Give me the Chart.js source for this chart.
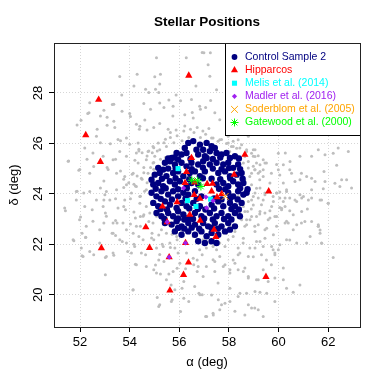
<!DOCTYPE html>
<html>
<head>
<meta charset="utf-8">
<script src="https://cdn.jsdelivr.net/npm/chart.js@4.4.1/dist/chart.umd.min.js"></script>
<style>
  body { margin: 0; background: #fff; }
  canvas { display: block; }
</style>
</head>
<body>
<canvas id="myChart" width="382" height="382"></canvas>
<script>
// tick values (deg)
const xTickValues = [52, 54, 56, 58, 60, 62];
const yTickValues = [20, 22, 24, 26, 28];

// background field stars [alpha, delta]
const fieldStars = [
  [55.08,29.40],[56.28,29.40],[56.92,29.60],[53.60,28.65],[54.30,28.74],[55.01,28.64],[55.24,28.74],
  [54.17,28.28],[54.64,28.15],[55.04,28.15],[55.21,28.35],[55.17,28.02],[53.68,27.92],[54.77,28.02],
  [55.87,27.92],[56.67,28.28],[52.39,27.61],[52.96,27.31],[53.36,27.55],[52.31,27.18],[52.82,27.09],
  [54.00,27.18],[54.57,27.58],[54.84,27.35],[55.38,27.42],[55.58,27.72],[55.74,27.09],[56.05,27.69],
  [56.52,27.22],[56.85,27.35],[57.06,27.42],[52.04,26.92],[51.88,26.73],[52.69,26.56],[53.09,26.72],
  [53.09,27.04],[53.40,26.63],[54.27,26.76],[54.61,26.93],[54.39,26.56],[54.70,26.53],[54.97,26.63],
  [55.21,26.79],[55.55,26.56],[55.87,26.53],[56.22,26.69],[56.45,26.56],[56.72,26.63],[56.95,26.49],
  [57.19,26.59],[52.82,26.03],[53.22,25.99],[53.63,26.10],[54.00,25.97],[54.37,25.70],[54.77,25.70],
  [54.97,25.83],[55.38,26.03],[55.64,26.23],[51.54,25.30],[51.95,24.93],[52.28,25.37],[52.55,25.08],
  [53.09,25.04],[53.43,25.37],[53.63,24.91],[53.76,24.58],[54.21,25.33],[54.57,25.04],[54.97,24.97],
  [54.84,24.58],[54.17,24.38],[52.96,24.51],[56.99,29.59],[57.25,29.59],[57.16,29.12],[57.23,28.66],
  [57.50,28.13],[57.26,27.70],[57.43,27.21],[57.63,26.94],[57.36,26.21],[57.56,26.08],[56.49,27.74],
  [56.82,27.47],[56.56,27.01],[56.22,27.14],[55.75,27.47],[55.21,27.60],[53.30,27.54],[53.69,27.27],
  [52.36,27.21],[53.36,26.88],[54.03,27.07],[54.41,26.68],[55.15,26.02],[55.48,25.88],[55.21,25.75],
  [54.94,25.88],[54.34,26.02],[53.87,26.21],[52.66,26.28],[53.53,26.15],[52.19,25.82],[52.52,25.62],
  [52.93,25.49],[53.33,25.35],[53.60,25.68],[53.87,25.49],[54.27,25.62],[54.74,25.68],[55.01,25.49],
  [54.67,25.35],[54.94,25.22],[54.34,25.22],[51.99,24.96],[52.39,24.82],[53.13,24.96],[53.47,24.82],
  [53.80,24.69],[54.14,24.82],[54.47,24.62],[54.74,24.82],[54.94,24.49],
  [54.37,25.77],[54.50,25.63],[54.70,25.50],[54.91,25.63],[55.11,25.70],[55.24,25.37],[55.44,25.44],
  [54.97,25.24],[54.84,25.04],[54.57,24.84],[54.30,24.71],[54.10,24.78],[54.50,24.58],[54.70,24.44],
  [54.23,24.31],[53.96,24.44],[54.97,24.71],[55.64,26.43],[55.91,26.30],[56.18,26.49],[56.38,26.23],
  [56.59,26.43],[56.85,26.23],[57.06,26.36],[55.44,26.16],[55.78,26.03],[56.11,26.10],
  [57.97,26.28],[58.17,26.08],[58.31,25.81],[58.51,25.95],[58.71,25.75],[58.91,25.61],[58.44,25.42],
  [58.78,25.28],[58.98,25.09],[59.25,24.89],[59.38,24.69],[58.64,24.56],[58.91,24.36],[59.25,24.23],
  [58.78,24.09],[58.58,23.89],[58.98,23.56],[58.64,23.30],[58.85,22.97],
  [57.30,26.21],[57.63,26.14],[57.90,26.00],[58.10,25.88],[58.37,26.14],[58.78,26.28],[59.05,25.48],
  [59.38,25.35],[59.25,25.15],[58.58,25.22],[58.78,25.02],[59.05,24.95],[59.18,24.82],[59.45,25.22],
  [59.99,25.61],[60.19,25.15],[60.46,25.28],[59.99,24.95],[60.52,24.82],[60.86,24.56],[61.13,24.69],
  [61.47,24.49],[61.60,25.75],[62.20,25.61],[62.81,25.68],[62.27,24.42],[62.54,24.56],[62.94,24.23],
  [61.67,23.76],[61.33,23.83],[61.00,23.89],[60.73,23.70],[60.26,23.83],[59.92,24.03],[60.32,24.09],
  [59.45,23.96],[59.18,23.83],[59.05,24.03],[58.78,23.70],[59.72,23.50],[60.12,23.43],[59.85,23.10],
  [59.25,23.30],[58.91,23.10],[58.58,23.50],[58.37,23.89],[60.59,23.17],[60.93,23.30],[61.33,22.90],
  [61.60,22.77],[59.18,22.77],[58.71,22.77],[58.51,22.97],[59.58,22.97],[60.26,22.84],[58.91,24.82],
  [58.64,25.48],[59.05,25.75],[58.44,25.82],[58.71,25.68],[58.98,25.49],[59.51,25.22],[59.92,25.16],
  [60.27,25.62],[60.86,25.49],[61.33,25.49],[61.87,25.55],[62.40,25.82],[62.34,25.13],[61.83,24.89],
  [62.74,24.56],[61.87,24.49],[61.33,24.62],[60.92,24.82],[60.45,24.95],[60.05,24.75],[59.38,24.95],
  [59.24,24.56],[59.65,24.43],[60.19,24.43],[60.66,24.49],
  [58.78,24.12],[60.05,24.07],[61.33,24.16],[61.80,24.20],[62.47,24.29],[58.91,23.76],[59.31,23.57],
  [59.79,23.70],[60.05,23.83],[60.26,23.50],[60.66,23.76],[60.93,23.83],[61.20,23.76],[61.73,23.76],
  [62.00,23.63],[58.75,23.30],[59.11,23.10],[59.45,23.24],[59.65,23.04],[59.92,23.10],[60.12,23.37],
  [60.39,22.84],[60.73,22.77],[61.06,22.90],[61.60,22.71],[61.67,22.57],[58.64,22.71],[59.05,22.51],
  [59.52,22.64],[59.79,22.38],[60.32,22.18],[60.73,22.05],[61.13,22.05],[61.73,22.05],[62.20,21.48],
  [59.05,21.85],[59.72,21.91],[59.99,21.78],[59.85,21.58],[59.31,21.58],[58.78,21.52],[58.37,21.58],
  [58.17,21.38],[57.84,21.19],[58.04,20.99],[58.37,20.99],[58.58,20.92],[58.78,20.66],[59.18,20.59],
  [59.58,20.52],[59.85,20.66],[60.32,20.26],[60.59,20.10],[60.86,20.39],[59.05,20.13],[59.25,20.10],
  [59.52,20.06],[58.71,20.06],[58.37,19.93],[57.84,19.66],[57.57,19.80],[57.30,19.99],[58.78,19.60],
  [58.91,19.47],[59.18,19.40],[59.38,19.14],[57.63,19.40],[57.37,19.20],[57.10,19.14],[57.43,21.32],
  [57.63,21.52],[57.23,22.05],[57.50,21.78],[57.84,21.91],[57.97,22.18],[58.37,21.85],[58.24,22.51],
  [58.58,22.24],[59.25,22.11],[59.45,22.24],[58.04,22.71],[61.27,22.31],[60.45,22.17],[58.44,23.24],
  [58.17,22.31],[57.90,22.44],[57.63,22.05],[57.36,21.91],[56.96,22.18],[56.56,22.31],[56.09,22.58],
  [55.89,22.31],
  [51.88,24.10],[52.15,24.03],[52.82,24.23],[53.76,24.25],[53.00,23.96],[53.43,23.80],[52.96,23.76],
  [54.03,23.80],[54.43,23.90],[54.60,24.10],[51.41,23.33],[52.02,23.08],[52.49,23.37],[53.02,23.24],
  [53.76,23.50],[53.83,23.37],[54.17,23.28],[54.43,23.10],[54.23,23.04],[54.57,23.17],[54.77,22.90],
  [52.96,22.84],[53.43,22.94],[53.49,22.84],[54.03,22.80],[54.43,22.71],[54.90,22.44],[54.37,22.31],
  [51.75,22.14],[52.08,22.44],[52.22,22.27],[53.29,22.44],[53.43,22.35],[53.70,22.11],[54.17,22.00],
  [54.97,22.18],[55.17,22.37],[55.31,22.00],[55.64,21.87],[55.71,22.40],[55.91,22.18],[52.39,21.71],
  [52.08,21.54],[52.55,21.58],[53.02,21.48],[53.36,21.56],[53.92,21.71],[54.23,21.21],[54.64,21.58],
  [55.04,21.18],[55.17,21.38],[55.38,21.32],[54.97,20.99],[55.24,20.82],[55.58,20.82],[55.91,21.05],
  [56.25,21.03],[56.58,21.19],[56.72,21.38],[56.92,21.58],[56.72,20.92],[53.02,20.79],[54.13,20.19],
  [55.11,19.89],[55.17,19.53],[55.71,19.80],[56.05,19.33],[56.18,19.86],[56.38,19.73],[56.79,20.06],
  [57.06,19.14],[56.18,20.52],[56.11,20.26],[55.67,20.39],[56.92,20.00],[51.38,23.44],[51.85,23.76],
  [52.19,23.50],[52.66,23.76],[52.93,23.50],[53.20,23.76],[53.53,23.44],[53.80,23.76],[54.07,24.03],
  [54.41,23.89],[54.67,24.16],[54.27,24.29],[53.87,24.36],[53.47,24.16],[53.06,24.09],[52.39,24.09],
  [51.85,24.09],[51.52,25.29],[54.67,23.50],[54.41,23.63],[54.54,23.11],[54.81,23.24],[55.08,23.11],
  [54.94,22.84],[55.28,22.58],[55.48,22.44],[55.75,22.44],[54.27,22.71],[54.14,22.44],[53.87,22.58],
  [53.73,22.84],[53.33,22.84],[53.06,23.11],[52.79,22.58],[52.52,22.91],[52.25,22.71],[51.98,22.97],
  [51.72,22.18],[52.23,22.28],[52.79,22.05],[53.33,22.44],[53.60,22.18],[53.87,22.05],[54.20,21.91],
  [54.07,21.65],[54.47,21.65],[54.54,22.18],[54.88,22.25],[55.08,21.85],[55.21,21.59],[55.35,21.91],
  [55.62,22.05],[55.82,21.85],[55.95,21.65],[52.12,21.52],[52.05,21.85],[53.06,21.52],[53.33,21.65],
  [54.67,21.12],[54.27,21.19],[54.14,20.20],[55.08,20.86],[55.75,20.92],[56.02,21.25],[56.29,21.65],
  [56.56,21.45],[56.82,21.78],[57.09,21.85],[56.76,21.12],[57.09,21.12],[57.36,21.39],[57.43,20.92],
  [56.96,20.72],[57.56,20.46],[58.04,20.26],[58.44,20.06],[58.24,21.25],[58.04,20.86],[57.77,21.12],
  [58.64,21.06],[58.78,20.72],[59.11,20.59],[59.38,20.99],[59.71,21.19],[60.19,21.06],[60.19,20.59],
  [59.04,19.47],[59.85,19.73],[58.64,19.20],[58.24,19.34],[58.04,19.73],[57.70,19.60],[57.36,19.27],
  [56.83,20.00],[56.62,20.33],[55.68,19.73],[55.21,19.60],[55.82,20.20],[55.48,20.59],[60.05,21.98],
  [59.78,21.78],[59.38,21.91],[59.11,22.11],[58.84,21.85],[58.57,22.05],[58.44,21.65],[58.98,21.51],
  [59.51,21.38],[59.85,21.65],[59.04,22.71],[59.45,22.58],[59.92,22.71],[60.32,22.91],[60.59,22.58],
  [60.92,22.84],[61.60,22.71],[61.67,22.44],[61.74,22.04],[58.71,22.97],[58.90,23.40],[59.24,23.20],
  [59.65,23.33],[60.05,23.46],[60.45,23.33],[61.16,23.40],[62.00,23.63],[60.19,23.70],[60.45,23.83],
  [60.86,23.96],[59.78,23.89],[59.38,23.76],[58.98,23.89],[59.45,24.03],[59.92,24.03],[60.32,24.16],
  [59.11,24.22],[58.84,24.69],[59.71,24.82],[59.04,24.95],[59.11,25.22],[59.18,25.51],[58.37,25.49],
  [58.03,25.68],[58.17,25.88],[57.97,26.02],[57.70,26.15],[58.98,25.75]
];

// Control Sample 2 [alpha, delta]
const controlSample = [
  [56.36,26.02],[56.56,26.09],[56.83,25.95],[57.10,26.02],[57.30,25.89],[57.43,25.82],[56.22,25.82],
  [56.69,25.75],[56.96,25.75],[57.23,25.69],
  [55.89,25.62],[56.09,25.56],[56.29,25.62],[56.76,25.56],[57.03,25.49],[57.50,25.62],[57.70,25.56],
  [57.90,25.62],[58.04,25.42],[58.24,25.49],[55.69,25.42],[55.95,25.36],
  [55.42,25.23],[55.62,25.29],[55.82,25.16],[56.09,25.23],[56.29,25.09],[56.49,25.23],[56.76,25.16],
  [56.96,25.29],[57.23,25.16],[57.50,25.23],[57.77,25.16],[57.97,25.23],[58.17,25.03],[58.37,25.16],
  [55.15,25.03],[55.35,24.96],
  [55.01,24.76],[55.21,24.83],[55.48,24.70],[55.75,24.83],[55.95,24.89],[56.16,24.70],[56.42,24.83],
  [56.63,24.89],[56.83,24.70],[57.03,24.89],[57.57,24.83],[57.84,24.89],[58.04,24.70],[58.31,24.76],
  [58.51,24.83],[54.88,24.56],
  [54.95,24.37],[55.15,24.43],[55.35,24.30],[55.62,24.50],[55.82,24.37],[56.02,24.50],[56.29,24.30],
  [56.49,24.43],[56.76,24.37],[57.50,24.37],[57.77,24.43],[57.97,24.30],[58.17,24.50],[58.37,24.37],
  [58.58,24.43],
  [54.88,24.04],[55.08,23.90],[55.28,24.10],[55.55,23.97],[55.75,24.10],[55.95,23.90],[56.16,24.04],
  [56.36,23.97],[56.63,24.10],[56.89,23.90],[57.97,24.04],[58.17,23.90],[58.37,24.10],[58.58,23.97],
  [58.71,24.04],
  [54.95,23.64],[55.15,23.51],[55.42,23.70],[55.62,23.57],[55.89,23.44],[56.09,23.64],[56.29,23.51],
  [56.56,23.64],[56.83,23.51],[57.30,23.57],[57.57,23.70],[57.77,23.51],[58.04,23.64],[58.24,23.51],
  [58.51,23.64],
  [55.08,23.24],[55.28,23.11],[55.55,23.24],[55.75,23.11],[55.95,23.31],[56.16,23.18],[56.36,23.04],
  [56.63,23.24],[56.89,23.11],[57.23,23.24],[57.50,23.11],[57.70,23.24],[57.97,23.11],[58.24,23.24],
  [58.44,23.11],
  [55.42,22.84],[55.69,22.78],[55.89,22.91],[56.09,22.71],[56.36,22.84],[56.63,22.78],[56.96,22.84],
  [57.16,22.71],[57.43,22.84],[57.70,22.71],[57.97,22.84],[58.24,22.71],
  [55.82,22.51],[56.09,22.38],[56.36,22.51],[56.63,22.38],[56.89,22.51],[57.10,22.32],[57.30,22.45],
  [57.57,22.38],[57.84,22.51],[58.04,22.58],
  [56.76,22.12],[57.03,22.05],[57.30,22.12],[57.50,22.05],
  [55.55,25.40],[55.80,25.44],[56.45,25.38],[57.10,25.42],[57.35,25.38],[57.65,25.44],[58.40,25.40],
  [55.55,25.00],[55.85,25.02],[56.50,24.98],[56.95,25.04],[57.35,25.00],[57.70,24.98],[58.00,25.02],
  [58.45,24.98],
  [55.30,24.60],[55.85,24.62],[56.40,24.58],[56.95,24.62],[57.30,24.60],[57.65,24.58],[58.05,24.62],
  [58.55,24.60],
  [55.05,24.20],[55.45,24.22],[55.95,24.18],[56.30,24.22],[57.60,24.20],[57.85,24.18],[58.45,24.22],
  [58.75,24.18],
  [55.25,23.80],[55.70,23.78],[56.25,23.82],[56.70,23.80],[57.40,23.82],[57.70,23.78],[58.05,23.82],
  [58.35,23.78],
  [55.25,23.40],[55.50,23.38],[56.40,23.42],[56.75,23.40],[57.05,23.38],[57.40,23.42],[58.10,23.40],
  [58.40,23.38],
  [55.40,23.00],[55.95,23.02],[56.20,22.98],[56.55,23.00],[57.00,23.02],[57.35,22.98],[57.80,23.00],
  [58.10,22.98],
  [55.95,22.65],[56.20,22.62],[56.50,22.66],[56.80,22.62],[57.30,22.66],[57.55,22.62]
];

const hipparcos = [
  [56.38,28.69],[52.75,27.73],[52.23,26.33],[52.82,25.27],[58.64,25.55],[56.49,25.42],[56.29,24.87],
  [58.21,24.76],[59.60,24.10],[56.23,24.43],[56.62,24.45],[57.12,24.39],[57.34,24.40],[57.30,24.10],
  [56.60,23.96],[57.71,24.00],[57.52,23.87],[56.83,23.81],[55.91,23.67],[55.32,23.50],[56.42,23.17],
  [56.84,22.94],[54.65,22.68],[57.40,22.58],[57.47,22.29],[52.86,21.85],[54.80,21.86],[56.25,22.05],
  [55.59,21.49],[56.37,21.28],[56.17,20.79],[55.62,20.17],[59.49,20.71],[55.51,22.88]
];
const melis = [[55.95,25.00],[56.33,23.73],[56.67,23.50],[57.26,23.79]];
const madler = [[56.17,24.23],[57.07,23.87],[57.36,23.73],[57.10,23.44],[55.51,22.88],[56.25,22.05],[55.59,21.49]];
const soderblom = [[57.85,23.90]];
const gatewood = [[56.50,24.54],[56.74,24.52],[56.87,24.29]];

const seriesNames = ['Control Sample 2', 'Hipparcos', 'Melis et al. (2014)', 'Madler et al. (2016)',
  'Soderblom et al. (2005)', 'Gatewood et al. (2000)'];

const toXY = (list) => list.map(([a, d]) => ({ x: a, y: d }));

const legendItems = [
  { style: 'circle', r: 2.9, color: '#000080', stroke: false },
  { style: 'triangle', r: 4.1, color: '#FF0000', stroke: false },
  { style: 'rect', r: 3.6, color: '#00FFFF', stroke: false },
  { style: 'rectRot', r: 2.6, color: '#A020F0', stroke: false },
  { style: 'crossRot', r: 4.8, color: '#FFA500', stroke: true },
  { style: 'star', r: 4, color: '#00FF00', stroke: true }
];

const FONT = '"Liberation Sans", Arial, Helvetica, sans-serif';

const framePlugin = {
  id: 'frame',
  afterDraw(chart) {
    const { ctx, chartArea: a, scales } = chart;
    ctx.save();

    // legend box
    const lx = 225, ly = a.top, lw = a.right - 225, lh = 92;
    ctx.fillStyle = '#fff';
    ctx.fillRect(lx, ly, lw, lh);
    ctx.strokeStyle = '#000';
    ctx.lineWidth = 1;
    ctx.strokeRect(lx + 0.5, ly + 0.5, lw, lh);
    ctx.font = '10.5px ' + FONT;
    ctx.textBaseline = 'middle';
    ctx.textAlign = 'left';
    legendItems.forEach((it, i) => {
      const y = 57 + i * 13.1;
      ctx.fillStyle = it.color;
      ctx.strokeStyle = it.color;
      ctx.lineWidth = 1;
      Chart.helpers.drawPoint(ctx, { pointStyle: it.style, radius: it.r, borderWidth: it.stroke ? 1 : 0, rotation: 0 }, 234.5, y);
      ctx.fillStyle = it.color;
      ctx.fillText(seriesNames[i], 245, y);
    });

    // plot box
    ctx.strokeStyle = '#222';
    ctx.lineWidth = 1;
    ctx.strokeRect(a.left + 0.5, a.top + 0.5, a.right - a.left, a.bottom - a.top);

    // rotated y tick labels
    ctx.fillStyle = '#000';
    ctx.font = '13px ' + FONT;
    ctx.textAlign = 'center';
    ctx.textBaseline = 'middle';
    scales.y.ticks.forEach(t => {
      const y = scales.y.getPixelForValue(t.value);
      ctx.save();
      ctx.translate(38, y);
      ctx.rotate(-Math.PI / 2);
      ctx.fillText(String(t.value), 0, 0);
      ctx.restore();
    });

    // axis titles
    const cx = (a.left + a.right) / 2, cy = (a.top + a.bottom) / 2;
    ctx.fillText('\u03b1 (deg)', cx, 362);
    ctx.save();
    ctx.translate(14, cy);
    ctx.rotate(-Math.PI / 2);
    ctx.fillText('\u03b4 (deg)', 0, 0);
    ctx.restore();

    // title
    ctx.font = 'bold 13.5px ' + FONT;
    ctx.fillText('Stellar Positions', cx, 22);
    ctx.restore();
  }
};

const ctx = document.getElementById('myChart').getContext('2d');

const gridOpts = {
  color: '#d6d6d6',
  lineWidth: 1,
  drawTicks: true,
  tickLength: 5,
  tickColor: '#000',
  tickBorderDash: []
};

const myChart = new Chart(ctx, {
  type: 'scatter',
  data: {
    datasets: [
      { data: toXY(fieldStars), pointStyle: 'circle', pointRadius: 1.5, backgroundColor: '#BEBEBE', borderWidth: 0, order: 7 },
      { data: toXY(controlSample), pointStyle: 'circle', pointRadius: 3.2, backgroundColor: '#000080', borderWidth: 0, order: 6 },
      { data: toXY(hipparcos), pointStyle: 'triangle', pointRadius: 4.2, backgroundColor: '#FF0000', borderWidth: 0, order: 5 },
      { data: toXY(melis), pointStyle: 'rect', pointRadius: 3.6, backgroundColor: '#00FFFF', borderWidth: 0, order: 4 },
      { data: toXY(madler), pointStyle: 'rectRot', pointRadius: 2.6, backgroundColor: '#A020F0', borderWidth: 0, order: 3 },
      { data: toXY(soderblom), pointStyle: 'crossRot', pointRadius: 4.8, borderColor: '#FFA500', borderWidth: 1, order: 2 },
      { data: toXY(gatewood), pointStyle: 'star', pointRadius: 4, borderColor: '#00FF00', borderWidth: 1, order: 1 }
    ]
  },
  options: {
    responsive: false,
    animation: false,
    events: [],
    layout: { padding: { top: 43, right: 22, bottom: 0, left: 0 } },
    plugins: { legend: { display: false }, tooltip: { enabled: false }, title: { display: false } },
    scales: {
      x: {
        type: 'linear',
        min: 50.95,
        max: 63.28,
        afterBuildTicks: (s) => { s.ticks = xTickValues.map(v => ({ value: v })); },
        afterFit: (s) => { s.height = 55; },
        ticks: { color: '#000', font: { family: FONT, size: 13 }, padding: 3, maxRotation: 0 },
        grid: gridOpts,
        border: { display: false, dash: [1, 2] }
      },
      y: {
        type: 'linear',
        min: 18.72,
        max: 29.98,
        afterBuildTicks: (s) => { s.ticks = yTickValues.map(v => ({ value: v })); },
        afterFit: (s) => { s.width = 54; },
        ticks: { display: false },
        grid: gridOpts,
        border: { display: false, dash: [1, 2] }
      }
    }
  },
  plugins: [framePlugin]
});
</script>
</body>
</html>
